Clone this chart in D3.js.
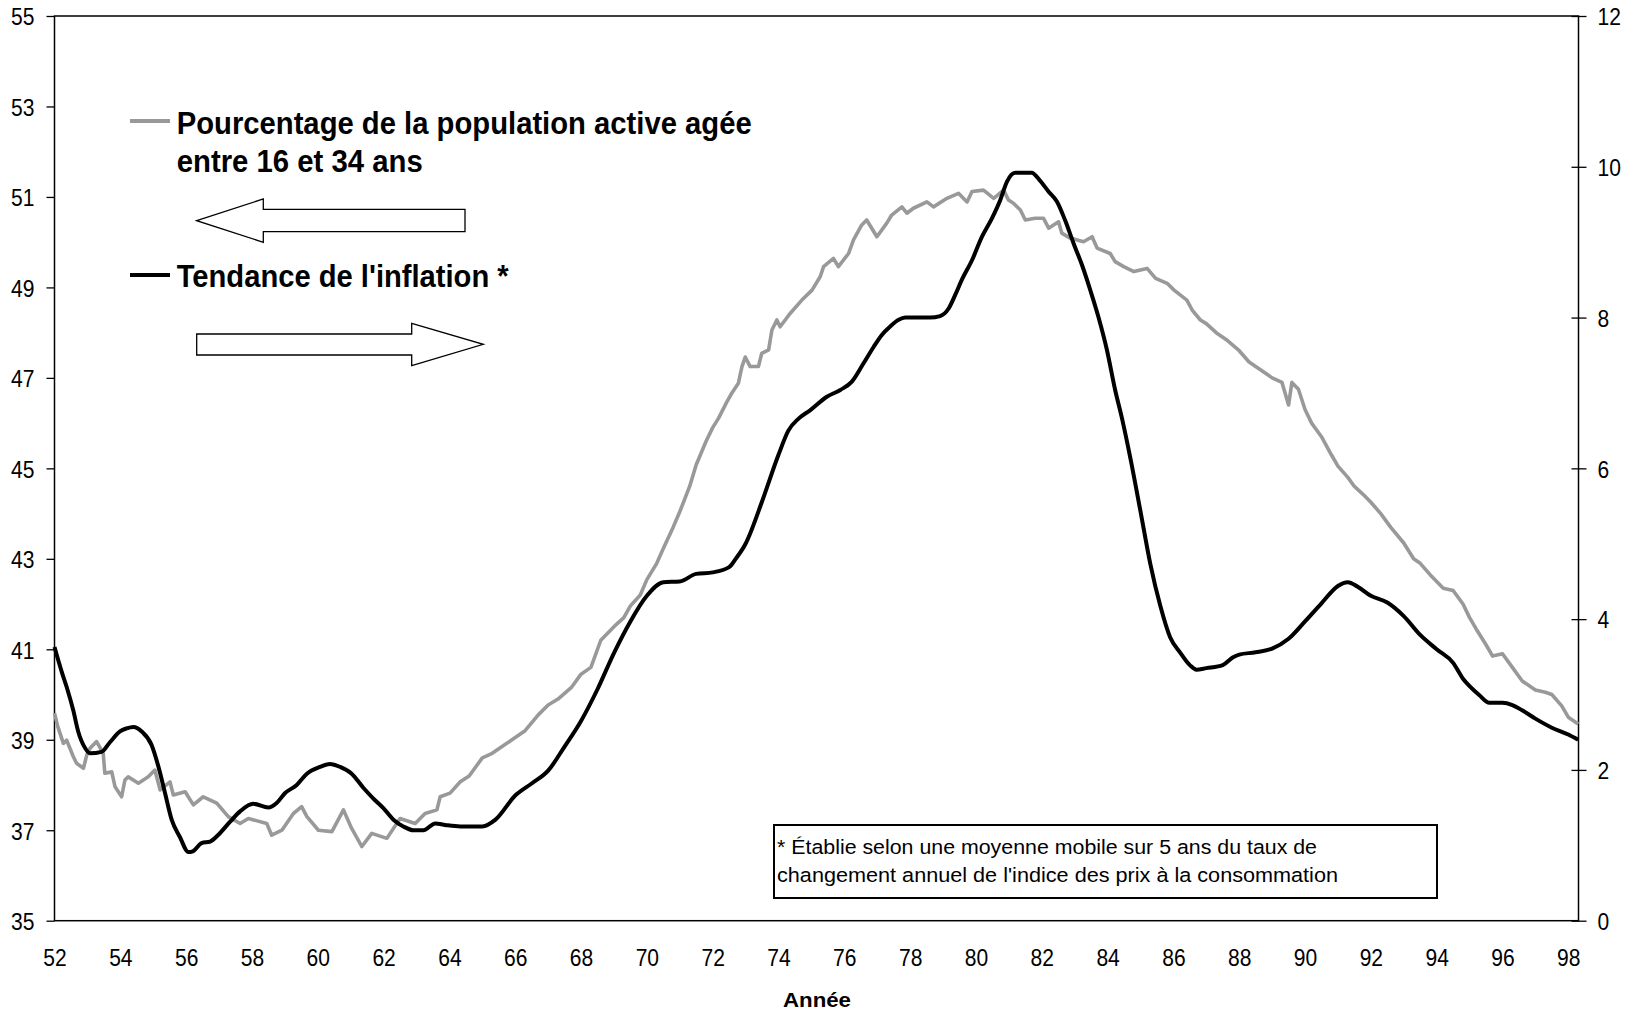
<!DOCTYPE html>
<html>
<head>
<meta charset="utf-8">
<script src="https://cdn.jsdelivr.net/npm/d3@7"></script>
<style>
  body { margin: 0; background: #fff; }
  svg { display: block; font-family: "Liberation Sans", Arial, sans-serif; }
</style>
</head>
<body>
<svg id="chart" width="1638" height="1010"></svg>
<script>
// Share of labour force aged 16-34 (left axis, %), [year, value]
const popShare = [
  [52.00, 39.59], [52.10, 39.29], [52.27, 38.92], [52.37, 38.99], [52.57, 38.63], [52.67, 38.48],
  [52.88, 38.37], [52.98, 38.66], [53.08, 38.81], [53.28, 38.96], [53.48, 38.70], [53.53, 38.26],
  [53.74, 38.29], [53.84, 37.96], [54.04, 37.74], [54.14, 38.11], [54.24, 38.18], [54.55, 38.04],
  [54.85, 38.18], [55.05, 38.33], [55.21, 37.89], [55.51, 38.07], [55.61, 37.78], [55.97, 37.85],
  [56.22, 37.56], [56.52, 37.74], [56.93, 37.60], [57.28, 37.30], [57.64, 37.15], [57.89, 37.26],
  [58.45, 37.15], [58.60, 36.89], [58.91, 37.00], [59.26, 37.37], [59.51, 37.52], [59.67, 37.30],
  [60.02, 37.00], [60.43, 36.97], [60.78, 37.45], [61.03, 37.04], [61.34, 36.64], [61.64, 36.93],
  [62.10, 36.82], [62.50, 37.26], [62.96, 37.15], [63.26, 37.37], [63.62, 37.45], [63.72, 37.74],
  [64.02, 37.82], [64.33, 38.07], [64.60, 38.20], [65.00, 38.60], [65.30, 38.70], [65.60, 38.85],
  [66.00, 39.05], [66.30, 39.20], [66.70, 39.55], [67.00, 39.77], [67.30, 39.90], [67.70, 40.15],
  [68.00, 40.45], [68.30, 40.60], [68.60, 41.20], [69.00, 41.50], [69.30, 41.70], [69.50, 41.96],
  [69.80, 42.20], [70.00, 42.54], [70.30, 42.90], [70.50, 43.23], [70.80, 43.70], [71.00, 44.04],
  [71.30, 44.60], [71.50, 45.08], [71.80, 45.60], [72.00, 45.90], [72.18, 46.11], [72.43, 46.47],
  [72.58, 46.66], [72.78, 46.88], [72.89, 47.25], [72.99, 47.46], [73.14, 47.25], [73.39, 47.25],
  [73.49, 47.54], [73.70, 47.62], [73.80, 48.06], [73.95, 48.28], [74.05, 48.13], [74.36, 48.43],
  [74.71, 48.72], [75.02, 48.94], [75.27, 49.24], [75.37, 49.46], [75.67, 49.64], [75.82, 49.46],
  [76.13, 49.75], [76.28, 50.05], [76.53, 50.38], [76.68, 50.49], [76.99, 50.12], [77.29, 50.42],
  [77.44, 50.60], [77.75, 50.78], [77.90, 50.64], [78.10, 50.75], [78.51, 50.89], [78.71, 50.78],
  [79.12, 50.97], [79.47, 51.08], [79.73, 50.89], [79.88, 51.12], [80.23, 51.15], [80.54, 50.97],
  [80.84, 51.15], [80.99, 50.93], [81.14, 50.86], [81.35, 50.71], [81.50, 50.49], [81.80, 50.53],
  [82.05, 50.53], [82.21, 50.31], [82.51, 50.45], [82.61, 50.20], [82.86, 50.09], [83.27, 50.01],
  [83.53, 50.12], [83.68, 49.87], [84.08, 49.75], [84.23, 49.57], [84.49, 49.46], [84.80, 49.35],
  [85.20, 49.42], [85.46, 49.20], [85.81, 49.09], [86.02, 48.94], [86.41, 48.72], [86.57, 48.50],
  [86.82, 48.28], [87.00, 48.20], [87.30, 48.00], [87.60, 47.85], [88.00, 47.60], [88.30, 47.35],
  [88.60, 47.20], [89.00, 47.00], [89.30, 46.90], [89.50, 46.40], [89.60, 46.90], [89.80, 46.75],
  [90.00, 46.30], [90.20, 46.00], [90.50, 45.70], [90.80, 45.30], [91.00, 45.05], [91.30, 44.80],
  [91.50, 44.60], [91.80, 44.40], [92.00, 44.25], [92.30, 44.00], [92.60, 43.70], [93.00, 43.35],
  [93.30, 43.00], [93.50, 42.90], [93.80, 42.65], [94.00, 42.50], [94.20, 42.35], [94.50, 42.30],
  [94.80, 42.00], [95.00, 41.70], [95.20, 41.45], [95.50, 41.10], [95.70, 40.85], [96.00, 40.90],
  [96.30, 40.60], [96.60, 40.30], [97.00, 40.10], [97.30, 40.05], [97.50, 40.00], [97.80, 39.75],
  [98.00, 39.50], [98.30, 39.35]
];

// Inflation trend, 5-year moving average (right axis, %), [year, value]
const inflTrend = [
  [52.00, 3.63], [52.22, 3.30], [52.37, 3.10], [52.57, 2.79], [52.72, 2.51], [52.93, 2.29],
  [53.08, 2.22], [53.43, 2.24], [53.69, 2.37], [53.99, 2.51], [54.19, 2.55], [54.40, 2.57],
  [54.65, 2.51], [54.95, 2.33], [55.16, 2.04], [55.36, 1.69], [55.56, 1.34], [55.81, 1.11],
  [56.07, 0.91], [56.20, 0.92], [56.47, 1.03], [56.73, 1.05], [56.98, 1.14], [57.33, 1.31],
  [57.64, 1.45], [58.04, 1.55], [58.50, 1.50], [58.75, 1.56], [59.00, 1.69], [59.36, 1.80],
  [59.67, 1.95], [60.07, 2.04], [60.37, 2.08], [60.68, 2.04], [61.03, 1.95], [61.39, 1.76],
  [61.69, 1.62], [62.00, 1.49], [62.30, 1.34], [62.60, 1.25], [62.91, 1.20], [63.21, 1.20],
  [63.57, 1.29], [63.87, 1.27], [64.33, 1.25], [65.00, 1.25], [65.40, 1.34], [66.00, 1.66],
  [66.50, 1.82], [67.00, 1.99], [67.50, 2.31], [68.00, 2.65], [68.50, 3.07], [69.00, 3.55],
  [69.50, 3.97], [70.00, 4.31], [70.50, 4.49], [71.00, 4.50], [71.50, 4.60], [72.00, 4.62],
  [72.50, 4.69], [72.70, 4.80], [73.00, 5.00], [73.50, 5.56], [74.00, 6.18], [74.30, 6.50],
  [74.61, 6.66], [74.96, 6.77], [75.47, 6.95], [75.88, 7.04], [76.23, 7.15], [76.58, 7.39],
  [76.89, 7.61], [77.14, 7.77], [77.39, 7.88], [77.65, 7.97], [77.85, 8.00], [78.61, 8.00],
  [78.91, 8.02], [79.17, 8.12], [79.37, 8.30], [79.57, 8.50], [79.88, 8.76], [80.18, 9.07],
  [80.49, 9.32], [80.74, 9.56], [80.94, 9.80], [81.19, 9.92], [81.69, 9.92], [81.94, 9.82],
  [82.21, 9.67], [82.46, 9.54], [82.71, 9.29], [82.97, 8.98], [83.22, 8.70], [83.47, 8.37],
  [83.72, 8.01], [83.98, 7.57], [84.23, 7.04], [84.44, 6.66], [84.70, 6.12], [85.00, 5.43],
  [85.30, 4.73], [85.60, 4.18], [85.90, 3.76], [86.20, 3.56], [86.50, 3.39], [86.70, 3.33],
  [87.00, 3.35], [87.50, 3.39], [87.80, 3.49], [88.00, 3.53], [88.50, 3.56], [89.00, 3.61],
  [89.50, 3.74], [90.00, 3.97], [90.50, 4.21], [91.00, 4.44], [91.30, 4.49], [91.60, 4.43],
  [92.00, 4.31], [92.50, 4.22], [93.00, 4.04], [93.50, 3.79], [94.00, 3.60], [94.50, 3.42],
  [94.80, 3.21], [95.00, 3.11], [95.30, 2.99], [95.60, 2.89], [96.00, 2.89], [96.30, 2.86],
  [96.60, 2.79], [97.00, 2.68], [97.50, 2.56], [98.00, 2.47], [98.30, 2.40]
];

const yearTicks = d3.range(52, 99, 2);
const leftTicks = d3.range(35, 56, 2);
const rightTicks = d3.range(0, 13, 2);

const legendPop = ["Pourcentage de la population active agée", "entre 16 et 34 ans"];
const legendInfl = "Tendance de l'inflation *";
const noteLines = [
  "* Établie selon une moyenne mobile sur 5 ans du taux de",
  "changement annuel de l'indice des prix à la consommation"
];
const xTitle = "Année";

const svg = d3.select("#chart");

// plot area
const plot = { left: 54.5, right: 1578.5, top: 16, bottom: 920.7 };

const x = d3.scaleLinear().domain([52, 98.31]).range([plot.left, plot.right]);
const yLeft = d3.scaleLinear().domain([35, 55]).range([plot.bottom, plot.top]);
const yRight = d3.scaleLinear().domain([0, 12]).range([plot.bottom, plot.top]);

// digits in the original are narrow; fit each label to its measured width
const digitW = 11.7;
function squeeze(sel) {
  sel.attr("textLength", function () { return this.textContent.length * digitW; })
    .attr("lengthAdjust", "spacingAndGlyphs");
}

// left axis
const gL = svg.append("g")
  .attr("transform", `translate(${plot.left},0)`)
  .call(d3.axisLeft(yLeft).tickValues(leftTicks).tickSize(8).tickPadding(12).tickFormat(d3.format("d")));
gL.select(".domain").remove();
gL.selectAll("line").attr("stroke", "#000").attr("stroke-width", 1.3);
gL.selectAll("text").attr("font-size", 24.5).attr("fill", "#000").attr("dy", "0.36em")
  .attr("font-family", "Liberation Sans, Arial, sans-serif").call(squeeze);

// right axis, ticks cross the axis line
const gR = svg.append("g")
  .attr("transform", `translate(${plot.right},0)`)
  .call(d3.axisRight(yRight).tickValues(rightTicks).tickSize(8).tickPadding(11).tickFormat(d3.format("d")));
gR.select(".domain").remove();
gR.selectAll("line").attr("x1", -7).attr("stroke", "#000").attr("stroke-width", 1.3);
gR.selectAll("text").attr("font-size", 24.5).attr("fill", "#000").attr("dy", "0.36em")
  .attr("font-family", "Liberation Sans, Arial, sans-serif").call(squeeze);

// bottom axis: labels only
const gB = svg.append("g")
  .attr("transform", `translate(0,${plot.bottom})`)
  .call(d3.axisBottom(x).tickValues(yearTicks).tickSize(0).tickPadding(36).tickFormat(d3.format("d")));
gB.select(".domain").remove();
gB.selectAll("text").attr("font-size", 24.5).attr("fill", "#000").attr("dy", "0.36em")
  .attr("font-family", "Liberation Sans, Arial, sans-serif").call(squeeze);

// plot border
svg.append("rect")
  .attr("x", plot.left).attr("y", plot.top)
  .attr("width", plot.right - plot.left).attr("height", plot.bottom - plot.top)
  .attr("fill", "none").attr("stroke", "#000").attr("stroke-width", 1.5);

// lines
const popLine = d3.line().x(d => x(d[0])).y(d => yLeft(d[1]));
const inflLine = d3.line().x(d => x(d[0])).y(d => yRight(d[1])).curve(d3.curveMonotoneX);

svg.append("path").datum(popShare)
  .attr("d", popLine)
  .attr("fill", "none").attr("stroke", "#999999").attr("stroke-width", 3.6)
  .attr("stroke-linejoin", "round");

svg.append("path").datum(inflTrend)
  .attr("d", inflLine)
  .attr("fill", "none").attr("stroke", "#000").attr("stroke-width", 4)
  .attr("stroke-linejoin", "round");

// legend
svg.append("line").attr("x1", 130).attr("x2", 170).attr("y1", 121).attr("y2", 121)
  .attr("stroke", "#999999").attr("stroke-width", 4);
svg.append("line").attr("x1", 130).attr("x2", 170).attr("y1", 275).attr("y2", 275)
  .attr("stroke", "#000").attr("stroke-width", 4);

const legendText = [
  { t: legendPop[0], y: 134.3, w: 575 },
  { t: legendPop[1], y: 171.7, w: 246 },
  { t: legendInfl, y: 287.3, w: 332 }
];
svg.selectAll(".legend")
  .data(legendText)
  .enter()
  .append("text")
  .attr("class", "legend")
  .attr("x", 176.7)
  .attr("y", d => d.y)
  .attr("font-size", 32)
  .attr("font-weight", "bold")
  .attr("textLength", d => d.w)
  .attr("lengthAdjust", "spacingAndGlyphs")
  .text(d => d.t);

// direction arrows
const arrowLeft = [[196.7, 220.7], [263.3, 199], [263.3, 209.3], [465, 209.3], [465, 231.7], [263.3, 231.7], [263.3, 242.3]];
const arrowRight = [[196.7, 334], [411.7, 334], [411.7, 323.3], [483.3, 344.3], [411.7, 365.7], [411.7, 355], [196.7, 355]];
svg.selectAll(".arrow")
  .data([arrowLeft, arrowRight])
  .enter()
  .append("polygon")
  .attr("points", d => d.map(p => p.join(",")).join(" "))
  .attr("fill", "#fff").attr("stroke", "#000").attr("stroke-width", 1.3);

// footnote box
svg.append("rect")
  .attr("x", 774).attr("y", 825).attr("width", 663).attr("height", 73)
  .attr("fill", "#fff").attr("stroke", "#000").attr("stroke-width", 2);
svg.selectAll(".note")
  .data([{ t: noteLines[0], y: 854.3, w: 540 }, { t: noteLines[1], y: 881.7, w: 561 }])
  .enter()
  .append("text")
  .attr("class", "note")
  .attr("x", 777)
  .attr("y", d => d.y)
  .attr("font-size", 20.5)
  .attr("textLength", d => d.w)
  .attr("lengthAdjust", "spacingAndGlyphs")
  .text(d => d.t);

// x axis title
svg.append("text")
  .attr("x", 817).attr("y", 1007)
  .attr("text-anchor", "middle")
  .attr("font-size", 21)
  .attr("font-weight", "bold")
  .attr("textLength", 68)
  .attr("lengthAdjust", "spacingAndGlyphs")
  .text(xTitle);
</script>
</body>
</html>
